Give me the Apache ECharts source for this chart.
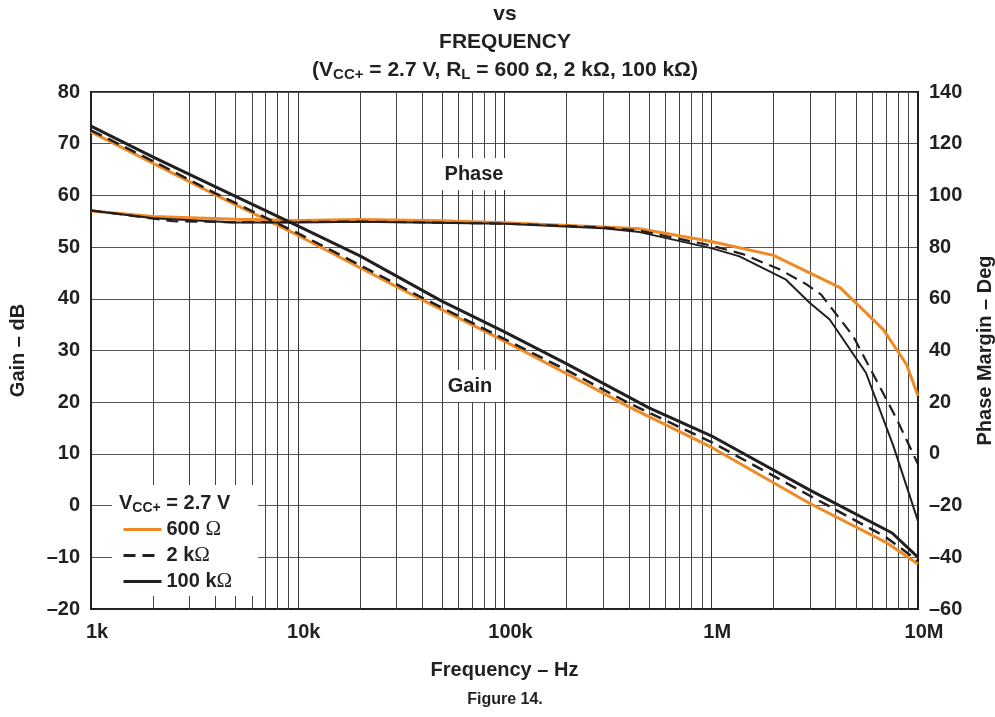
<!DOCTYPE html>
<html><head><meta charset="utf-8">
<script src="https://cdn.jsdelivr.net/npm/echarts@6/dist/echarts.min.js"></script>
<style>html,body{margin:0;padding:0;background:#fff}#c{width:995px;height:717px}</style>
</head><body><div id="c"></div>
<script>
const FONT = '"Liberation Sans", Arial, Helvetica, sans-serif';
const INK = '#231F20';
const ORANGE = '#F08A24';

// ---- data ----
const xTickValues = [1e3, 1e4, 1e5, 1e6, 1e7];
const xTickLabels = ['1k', '10k', '100k', '1M', '10M'];
const gainTicks = [-20, -10, 0, 10, 20, 30, 40, 50, 60, 70, 80];
const phaseTicks = [-60, -40, -20, 0, 20, 40, 60, 80, 100, 120, 140];

const gainFreq600 = [1e3, 2e3, 4e3, 1e4, 2e4, 4e4, 1e5, 2e5, 4e5, 1e6, 3e6, 7e6, 1e7];
const gain600     = [72.3, 66.2, 60.1, 52.3, 46.0, 39.8, 31.8, 25.5, 19.1, 11.3, 0.4, -7.1, -11.3];
const gainFreq2k  = [1e3, 2e3, 4e3, 1e4, 2e4, 4e4, 1e5, 2e5, 4e5, 1e6, 3e6, 7e6, 1e7];
const gain2k      = [72.6, 66.6, 60.4, 52.7, 46.5, 40.2, 32.2, 26.2, 19.8, 12.3, 1.9, -6.1, -10.7];
const gainFreq100k = [1e3, 2e3, 5e3, 1e4, 2e4, 5e4, 1e5, 2e5, 5e5, 1e6, 3e6, 7.5e6, 1e7];
const gain100k     = [73.4, 67.4, 59.8, 54.1, 48.3, 39.5, 33.6, 27.4, 18.9, 13.5, 3.0, -5.3, -10.0];

const phaseFreq600 = [1e3, 2e3, 5e3, 1e4, 2e4, 5e4, 1e5, 3e5, 4.5e5, 1e6, 2e6, 4.2e6, 6.8e6, 8.8e6, 1e7];
const phase600     = [94.0, 91.8, 90.8, 90.3, 90.7, 90.2, 89.4, 87.8, 87.1, 82.2, 76.8, 64.3, 48.1, 34.6, 22.5];
const phaseFreq2k  = [1e3, 1.8e3, 2.5e3, 5e3, 1e4, 2e4, 1e5, 3e5, 4.5e5, 1e6, 1.42e6, 2.15e6, 2.9e6, 3.4e6, 4.86e6, 7.9e6, 1e7];
const phase2k      = [94.2, 91.5, 90.0, 89.6, 89.7, 89.9, 89.1, 87.6, 86.4, 80.6, 77.3, 71.3, 65.5, 61.6, 45.5, 13.4, -4.0];
const phaseFreq100k = [1e3, 2e3, 5e3, 1e4, 2e4, 1e5, 3e5, 4.5e5, 1e6, 1.37e6, 2.3e6, 3e6, 3.74e6, 5.6e6, 7.6e6, 1e7];
const phase100k     = [94.2, 91.2, 89.5, 89.5, 89.8, 89.0, 87.3, 85.8, 79.6, 76.4, 67.4, 58.4, 52.0, 31.4, 3.1, -26.0];

const seriesNames = ['600 Ω', '2 kΩ', '100 kΩ'];

// minor log grid values (2..9 per decade)
const minorGrid = [];
for (let d = 1e3; d < 1e7; d *= 10) for (let k = 2; k <= 9; k++) minorGrid.push(k * d);

const zip = (xs, ys) => xs.map((x, i) => [x, ys[i]]);

const chart = echarts.init(document.getElementById('c'), null, { renderer: 'canvas' });
const axisLabelStyle = { fontFamily: FONT, fontWeight: 'bold', fontSize: 20, color: INK };
const nameStyle = { fontFamily: FONT, fontWeight: 'bold', fontSize: 20, color: INK };
const minusFmt = v => v < 0 ? '–' + Math.abs(v) : String(v);

chart.setOption({
  animation: false,
  backgroundColor: '#fff',
  grid: { left: 91, right: 77, top: 92, bottom: 108, containLabel: false, outerBoundsMode: 'none',
    show: true, borderColor: INK, borderWidth: 2, backgroundColor: 'transparent' },
  xAxis: {
    type: 'log', logBase: 10, min: 1e3, max: 1e7,
    name: 'Frequency – Hz', nameLocation: 'middle', nameGap: 51, nameTextStyle: nameStyle,
    axisLine: { show: true, onZero: false, lineStyle: { color: INK, width: 2 } },
    axisTick: { show: false },
    axisLabel: Object.assign({ margin: 13, padding: [0, 0, 0, 12], formatter: v => {
      const i = xTickValues.findIndex(t => Math.abs(Math.log10(t) - Math.log10(v)) < 1e-6);
      return i >= 0 ? xTickLabels[i] : '';
    } }, axisLabelStyle),
    splitLine: { show: true, lineStyle: { color: '#333', width: 1 } },
    minorTick: { show: false }
  },
  yAxis: [{
    type: 'value', min: gainTicks[0], max: gainTicks[gainTicks.length - 1], interval: 10,
    name: 'Gain – dB', nameLocation: 'middle', nameGap: 63, nameRotate: 90, nameTextStyle: nameStyle,
    axisLine: { show: true, onZero: false, lineStyle: { color: INK, width: 2 } },
    axisTick: { show: false },
    axisLabel: Object.assign({ margin: 11, formatter: minusFmt }, axisLabelStyle),
    splitLine: { show: true, lineStyle: { color: '#555', width: 1 } }
  }, {
    type: 'value', min: phaseTicks[0], max: phaseTicks[phaseTicks.length - 1], interval: 20,
    name: 'Phase Margin – Deg', nameLocation: 'middle', nameGap: 57, nameRotate: 90, nameTextStyle: nameStyle,
    axisLine: { show: true, onZero: false, lineStyle: { color: INK, width: 2 } },
    axisTick: { show: false },
    axisLabel: Object.assign({ margin: 11, formatter: minusFmt }, axisLabelStyle),
    splitLine: { show: false }
  }],
  legend: {
    data: seriesNames,
    orient: 'vertical', left: 112, top: 485,
    padding: [34, 26, 4, 10],
    itemWidth: 38, itemHeight: 14, itemGap: 5,
    backgroundColor: '#fff', borderWidth: 0,
    selectedMode: false,
    itemStyle: { opacity: 0, borderWidth: 0 },
    lineStyle: { width: 3 },
    textStyle: { fontFamily: FONT, fontWeight: 'bold', fontSize: 20, color: INK, lineHeight: 20,
      rich: { o: { fontFamily: '"Liberation Serif", "DejaVu Serif", serif', fontWeight: 'normal', fontSize: 21, lineHeight: 20, color: INK } } },
    formatter: n => n.replace('Ω', '{o|Ω}'),
    z: 10
  },
  series: [
    { type: 'line', name: 'grid', data: [], silent: true,
      markLine: { silent: true, symbol: ['none', 'none'], z: 1, animation: false,
        label: { show: false }, lineStyle: { color: '#444', width: 1, type: 'solid' },
        emphasis: { disabled: true },
        data: minorGrid.map(v => ({ xAxis: v })) } },
    { type: 'line', name: seriesNames[0], data: zip(gainFreq600, gain600), yAxisIndex: 0, symbol: 'none', z: 3,
      lineStyle: { color: ORANGE, width: 3 }, itemStyle: { color: ORANGE } },
    { type: 'line', name: seriesNames[1], data: zip(gainFreq2k, gain2k), yAxisIndex: 0, symbol: 'none', z: 4,
      lineStyle: { color: INK, width: 2.5, type: [12, 7] }, itemStyle: { color: INK } },
    { type: 'line', name: seriesNames[2], data: zip(gainFreq100k, gain100k), yAxisIndex: 0, symbol: 'none', z: 5,
      lineStyle: { color: INK, width: 3 }, itemStyle: { color: INK } },
    { type: 'line', name: seriesNames[0], data: zip(phaseFreq600, phase600), yAxisIndex: 1, symbol: 'none', z: 3,
      lineStyle: { color: ORANGE, width: 3 }, itemStyle: { color: ORANGE } },
    { type: 'line', name: seriesNames[1], data: zip(phaseFreq2k, phase2k), yAxisIndex: 1, symbol: 'none', z: 4,
      lineStyle: { color: INK, width: 2.2, type: [12, 7] }, itemStyle: { color: INK } },
    { type: 'line', name: seriesNames[2], data: zip(phaseFreq100k, phase100k), yAxisIndex: 1, symbol: 'none', z: 5,
      lineStyle: { color: INK, width: 2 }, itemStyle: { color: INK } }
  ],
  graphic: [
    { type: 'text', x: 505, y: 14, z: 100, silent: true, style: { text: 'vs', font: 'bold 21px ' + FONT, fill: INK, align: 'center', verticalAlign: 'middle' } },
    { type: 'text', x: 505, y: 42, z: 100, silent: true, style: { text: 'FREQUENCY', font: 'bold 21px ' + FONT, fill: INK, align: 'center', verticalAlign: 'middle' } },
    { type: 'text', x: 505, y: 70, z: 100, silent: true, style: {
      text: '(V{s|CC+} = 2.7 V, R{s|L} = 600 Ω, 2 kΩ, 100 kΩ)', font: 'bold 21px ' + FONT, fill: INK, align: 'center', verticalAlign: 'middle',
      rich: { s: { fontSize: 15, fontWeight: 'bold', fontFamily: FONT, padding: [10, 0, 0, 0] } } } },
    { type: 'text', x: 119, y: 503, z: 100, silent: true, style: {
      text: 'V{s|CC+} = 2.7 V', font: 'bold 20px ' + FONT, fill: INK, align: 'left', verticalAlign: 'middle',
      rich: { s: { fontSize: 14, fontWeight: 'bold', fontFamily: FONT, padding: [10, 0, 0, 0] } } } },
    { type: 'text', x: 474, y: 174, z: 100, silent: true, style: { text: 'Phase', font: 'bold 20px ' + FONT, fill: INK, align: 'center', verticalAlign: 'middle', backgroundColor: '#fff', padding: [6, 4, 6, 4] } },
    { type: 'text', x: 470, y: 386, z: 100, silent: true, style: { text: 'Gain', font: 'bold 20px ' + FONT, fill: INK, align: 'center', verticalAlign: 'middle', backgroundColor: '#fff', padding: [6, 4, 6, 4] } },
    { type: 'text', x: 505, y: 700, z: 100, silent: true, style: { text: 'Figure 14.', font: 'bold 16px ' + FONT, fill: INK, align: 'center', verticalAlign: 'middle' } }
  ]
});
</script></body></html>
